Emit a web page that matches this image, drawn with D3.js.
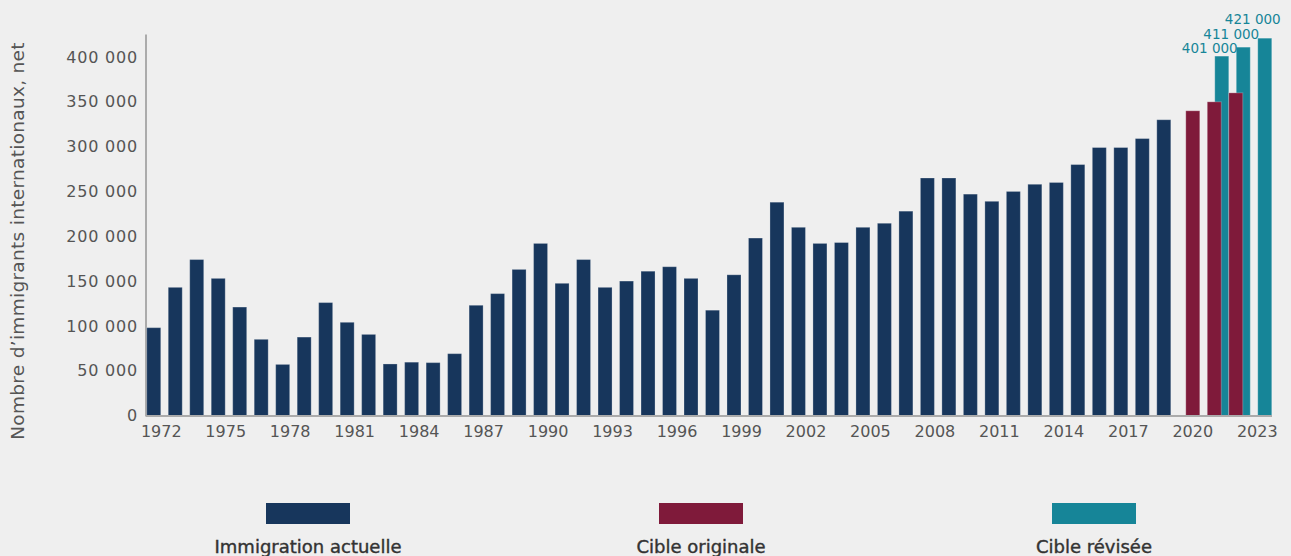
<!DOCTYPE html>
<html>
<head>
<meta charset="utf-8">
<script src="https://cdn.jsdelivr.net/npm/d3@7"></script>
<style>
  html, body { margin: 0; padding: 0; background: #efefef; }
  svg { display: block; }
  text { font-family: "DejaVu Sans", sans-serif; }
</style>
</head>
<body>
<svg id="chart" width="1291" height="556"></svg>
<script>
(function() {
    'use strict';

    // categories
    const years = [
        1972, 1973, 1974, 1975, 1976, 1977, 1978, 1979, 1980, 1981,
        1982, 1983, 1984, 1985, 1986, 1987, 1988, 1989, 1990, 1991,
        1992, 1993, 1994, 1995, 1996, 1997, 1998, 1999, 2000, 2001,
        2002, 2003, 2004, 2005, 2006, 2007, 2008, 2009, 2010, 2011,
        2012, 2013, 2014, 2015, 2016, 2017, 2018, 2019, 2020, 2021,
        2022, 2023
    ];

    // Immigration actuelle, 1972-2019
    const actualYears = years.slice(0, 48);
    const actualValues = [
        98000, 143000, 174000, 153000, 121000, 85000, 57000, 87500, 126000, 104000,
        90500, 57500, 59500, 59000, 69000, 123000, 136000, 163000, 192000, 147500,
        174000, 143000, 150000, 161000, 166000, 153000, 117500, 157000, 198000, 238000,
        210000, 192000, 193000, 210000, 214500, 228000, 265000, 265000, 247000, 239000,
        250000, 258000, 260000, 280000, 299000, 299000, 309000, 330000
    ];

    // Cible originale
    const originalYears = [2020, 2021, 2022];
    const originalValues = [340000, 350000, 360000];

    // Cible révisée
    const revisedYears = [2021, 2022, 2023];
    const revisedValues = [401000, 411000, 421000];

    const yTicks = [0, 50000, 100000, 150000, 200000, 250000, 300000, 350000, 400000];
    const xTicks = [1972, 1975, 1978, 1981, 1984, 1987, 1990, 1993, 1996, 1999,
                    2002, 2005, 2008, 2011, 2014, 2017, 2020, 2023];

    const series = [
        { name: 'Immigration actuelle', color: '#17365c' },
        { name: 'Cible originale', color: '#7f1a3a' },
        { name: 'Cible révisée', color: '#168598' }
    ];

    const locale = d3.formatLocale({ decimal: ',', thousands: ' ', grouping: [3], currency: ['', ' $'] });
    const fmt = locale.format(',d');

    const svg = d3.select('#chart');

    const x = d3.scaleBand()
        .domain(years)
        .range([150.5, 1268])
        .padding(0);

    const y = d3.scaleLinear()
        .domain([0, 425000])
        .range([415.5, 34.6]);

    const barW = 14;
    const shift = 7.5; // cluster offset between overlapping series
    const center = d => x(d) + x.bandwidth() / 2;

    // y axis line
    svg.append('line')
        .attr('x1', 146).attr('x2', 146)
        .attr('y1', y(425000)).attr('y2', y(0) + 1)
        .attr('stroke', '#ababab').attr('stroke-width', 2);

    // y axis labels
    const yAxis = d3.axisLeft(y)
        .tickValues(yTicks)
        .tickSize(0)
        .tickPadding(0)
        .tickFormat(fmt);

    const gy = svg.append('g')
        .attr('transform', 'translate(138,0)')
        .call(yAxis);
    gy.select('.domain').remove();
    gy.selectAll('text')
        .attr('fill', '#555')
        .style('font-size', '16px')
        .style('letter-spacing', '0.8px')
        .style('font-family', '"DejaVu Sans", sans-serif');

    // y title
    svg.append('text')
        .attr('transform', 'translate(24,241) rotate(-90)')
        .attr('text-anchor', 'middle')
        .attr('fill', '#555')
        .style('font-size', '18.5px')
        .style('letter-spacing', '0.3px')
        .text('Nombre d\u2019immigrants internationaux, net');

    // bars: revised behind original
    const bars = svg.append('g');

    bars.selectAll('rect.actual')
        .data(actualYears.map((yr, i) => ({ yr, v: actualValues[i] })))
        .enter().append('rect')
        .attr('class', 'actual')
        .attr('x', d => center(d.yr) - shift - barW / 2)
        .attr('y', d => y(d.v))
        .attr('width', barW)
        .attr('height', d => y(0) - y(d.v))
        .attr('fill', series[0].color);

    bars.selectAll('rect.revised')
        .data(revisedYears.map((yr, i) => ({ yr, v: revisedValues[i] })))
        .enter().append('rect')
        .attr('class', 'revised')
        .attr('x', d => center(d.yr) + shift - barW / 2)
        .attr('y', d => y(d.v))
        .attr('width', barW)
        .attr('height', d => y(0) - y(d.v))
        .attr('fill', series[2].color);

    bars.selectAll('rect.original')
        .data(originalYears.map((yr, i) => ({ yr, v: originalValues[i] })))
        .enter().append('rect')
        .attr('class', 'original')
        .attr('x', d => center(d.yr) - barW / 2)
        .attr('y', d => y(d.v))
        .attr('width', barW)
        .attr('height', d => y(0) - y(d.v))
        .attr('fill', series[1].color);

    bars.selectAll('rect')
        .attr('stroke', 'rgba(255,255,255,0.25)')
        .attr('stroke-width', 1);

    // baseline
    svg.append('line')
        .attr('x1', 146).attr('x2', 1272)
        .attr('y1', y(0) + 0.5).attr('y2', y(0) + 0.5)
        .attr('stroke', '#ababab').attr('stroke-width', 2);

    // x axis labels
    const xAxis = d3.axisBottom(x)
        .tickValues(xTicks)
        .tickSize(0)
        .tickPadding(10);

    const gx = svg.append('g')
        .attr('transform', `translate(0,${y(0)})`)
        .call(xAxis);
    gx.select('.domain').remove();
    gx.selectAll('text')
        .attr('fill', '#555')
        .style('font-size', '16px')
        .style('font-family', '"DejaVu Sans", sans-serif');

    // value labels over revised targets, stacked
    svg.append('g').selectAll('text')
        .data(revisedYears.map((yr, i) => ({ yr, v: revisedValues[i], i })))
        .enter().append('text')
        .attr('x', d => center(d.yr) + shift - 12)
        .attr('y', d => y(revisedValues[0]) - 3 - 14.5 * d.i)
        .attr('text-anchor', 'middle')
        .attr('fill', series[2].color)
        .style('font-size', '13.5px')
        .text(d => fmt(d.v));

    // legend
    const legend = svg.append('g').selectAll('g')
        .data(series)
        .enter().append('g')
        .attr('transform', (d, i) => `translate(${308 + i * 393},0)`);

    legend.append('rect')
        .attr('x', -42).attr('y', 503)
        .attr('width', 84).attr('height', 21)
        .attr('fill', d => d.color);

    legend.append('text')
        .attr('x', 0).attr('y', 553)
        .attr('text-anchor', 'middle')
        .attr('fill', '#333')
        .attr('stroke', '#333')
        .attr('stroke-width', 0.4)
        .style('font-size', '18px')
        .text(d => d.name);
})();
</script>
</body>
</html>
